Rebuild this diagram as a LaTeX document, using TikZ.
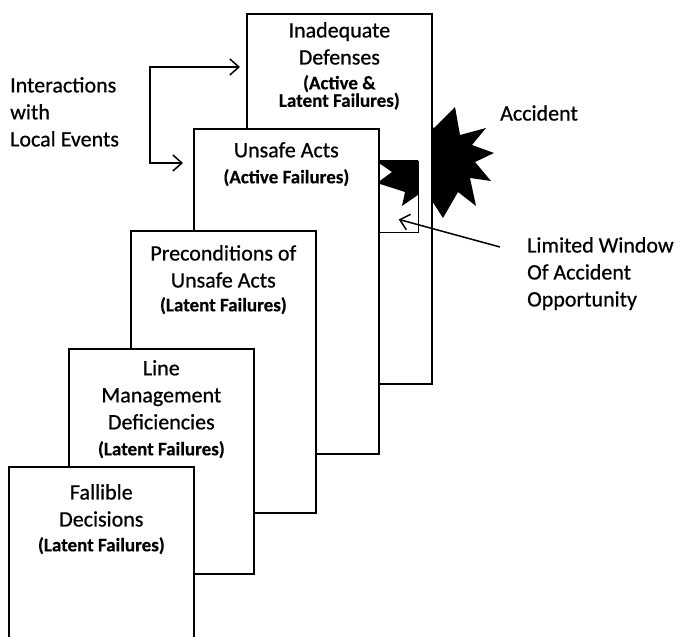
\documentclass[tikz,border=0pt]{standalone}
\usepackage{fontspec}
\setmainfont{Carlito}
\newfontfamily\scanfont{Carlito}[FakeBold=0.6]
\newfontfamily\scanbold{Carlito Bold}[FakeBold=0.4]
\usetikzlibrary{arrows.meta}

\tikzset{
  layer/.style={draw, fill=white, line width=1.7pt, minimum width=185pt, anchor=north west, inner sep=0pt},
  heading/.style={font=\scanfont\fontsize{22}{27}\selectfont, align=center, anchor=north, inner sep=0pt},
  failures/.style={font=\scanbold\fontsize{19}{17.5}\selectfont, align=center, anchor=north, inner sep=0pt},
  note/.style={font=\scanfont\fontsize{22}{27}\selectfont, align=left, inner sep=0pt},
  barbs/.style={line width=1.5pt, {Straight Barb[length=9pt,width=16pt,line width=1.5pt]}-{Straight Barb[length=9pt,width=16pt,line width=1.5pt]}},
  barb/.style={line width=1.5pt, -{Straight Barb[length=9pt,width=16pt,line width=1.5pt]}}
}

\newcommand\burst{\fill[black] (455,107) -- (460,135) -- (486,128) -- (472,145) -- (494,153)
  -- (475,162) -- (491,181) -- (470,178) -- (476,206) -- (458,192) -- (443,218) -- (425,190)
  -- (402,206) -- (405,192) -- (377,183) -- (392,172) -- (360,150) -- (400,148) -- (410,112)
  -- (434,128) -- cycle;}

\begin{document}
\begin{tikzpicture}[x=1pt,y=-1pt]
  \clip (0,0) rectangle (684,636);

  \burst

  \node[layer, minimum height=370pt] (defenses) at (246,13) {};
  \node[layer, minimum height=325pt] (acts) at (193,128) {};

  \begin{scope}
    \clip (378,161) rectangle (418,232);
    \burst
  \end{scope}
  \node[layer, fill=none, line width=1.4pt, minimum width=40pt, minimum height=71pt] (window) at (378,161) {};

  \node[layer, minimum height=282pt] (preconditions) at (130,230) {};
  \node[layer, minimum height=225pt] (management) at (68,348) {};
  \node[layer, minimum height=200pt] (decisions) at (8,466) {};

  \node[heading] (defenses-t) at ([yshift=-9pt]defenses.north) {Inadequate\\Defenses};
  \node[failures] (defenses-s) at ([yshift=-62pt]defenses.north) {(Active \&\\Latent Failures)};
  \node[heading] (acts-t) at ([yshift=-14pt]acts.north) {Unsafe Acts};
  \node[failures] (acts-s) at ([yshift=-41pt]acts.north) {(Active Failures)};
  \node[heading] (preconditions-t) at ([yshift=-15pt]preconditions.north) {Preconditions of\\Unsafe Acts};
  \node[failures] (preconditions-s) at ([yshift=-67pt]preconditions.north) {(Latent Failures)};
  \node[heading] (management-t) at ([yshift=-12pt]management.north) {Line\\Management\\Deficiencies};
  \node[failures] (management-s) at ([yshift=-93pt]management.north) {(Latent Failures)};
  \node[heading] (decisions-t) at ([yshift=-18pt]decisions.north) {Fallible\\Decisions};
  \node[failures] (decisions-s) at ([yshift=-71pt]decisions.north) {(Latent Failures)};

  \node[note, anchor=north west] (local) at (10,77) {Interactions\\with\\Local Events};
  \node[note, anchor=west] (accident) at (500,113) {Accident};
  \node[note, anchor=north west] (limited) at (527,237) {Limited Window\\Of Accident\\Opportunity};

  \coordinate (upper) at (150,67);
  \coordinate (lower) at (150,163);
  \draw[barbs, shorten <=10pt, shorten >=6pt] (lower -| acts.west) -- (lower) -- (upper) -- (upper -| defenses.west);

  \coordinate (lead) at (500,247);
  \draw[barb] (lead) -- ([yshift=14pt]window.south);
\end{tikzpicture}
\end{document}
